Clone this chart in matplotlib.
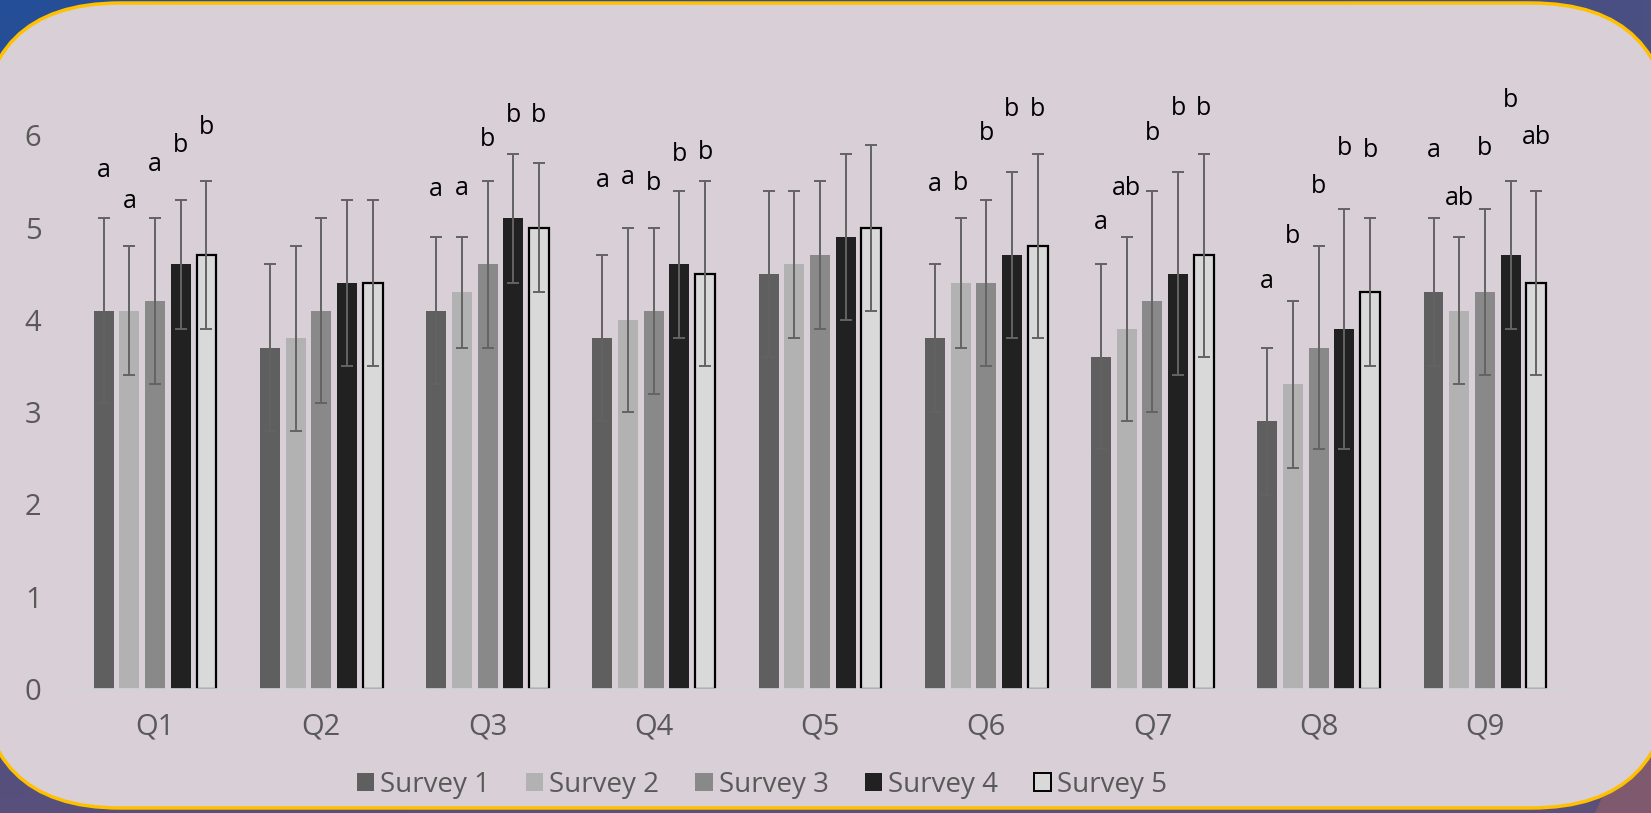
import numpy as np
import matplotlib.pyplot as plt
from matplotlib.patches import FancyBboxPatch, Polygon, Patch

plt.rcParams['font.family'] = ['Open Sans', 'DejaVu Sans']

questions = ['Q1', 'Q2', 'Q3', 'Q4', 'Q5', 'Q6', 'Q7', 'Q8', 'Q9']
surveys = ['Survey 1', 'Survey 2', 'Survey 3', 'Survey 4', 'Survey 5']

# mean scores per survey
survey1 = [4.1, 3.7, 4.1, 3.8, 4.5, 3.8, 3.6, 2.9, 4.3]
survey2 = [4.1, 3.8, 4.3, 4.0, 4.6, 4.4, 3.9, 3.3, 4.1]
survey3 = [4.2, 4.1, 4.6, 4.1, 4.7, 4.4, 4.2, 3.7, 4.3]
survey4 = [4.6, 4.4, 5.1, 4.6, 4.9, 4.7, 4.5, 3.9, 4.7]
survey5 = [4.7, 4.4, 5.0, 4.5, 5.0, 4.8, 4.7, 4.3, 4.4]

# standard deviations (error bars)
sd1 = [1.0, 0.9, 0.8, 0.9, 0.9, 0.8, 1.0, 0.8, 0.8]
sd2 = [0.7, 1.0, 0.6, 1.0, 0.8, 0.7, 1.0, 0.9, 0.8]
sd3 = [0.9, 1.0, 0.9, 0.9, 0.8, 0.9, 1.2, 1.1, 0.9]
sd4 = [0.7, 0.9, 0.7, 0.8, 0.9, 0.9, 1.1, 1.3, 0.8]
sd5 = [0.8, 0.9, 0.7, 1.0, 0.9, 1.0, 1.1, 0.8, 1.0]

# significance letters ('' = none)
letters1 = ['a', '', 'a', 'a', '', 'a', 'a', 'a', 'a']
letters2 = ['a', '', 'a', 'a', '', 'b', 'ab', 'b', 'ab']
letters3 = ['a', '', 'b', 'b', '', 'b', 'b', 'b', 'b']
letters4 = ['b', '', 'b', 'b', '', 'b', 'b', 'b', 'b']
letters5 = ['b', '', 'b', 'b', '', 'b', 'b', 'b', 'ab']

# height of the letters on the value scale
letter_h1 = [5.62, None, 5.41, 5.51, None, 5.47, 5.05, 4.42, 5.84]
letter_h2 = [5.28, None, 5.42, 5.54, None, 5.48, 5.42, 4.90, 5.31]
letter_h3 = [5.68, None, 5.95, 5.48, None, 6.02, 6.02, 5.45, 5.86]
letter_h4 = [5.89, None, 6.21, 5.79, None, 6.28, 6.29, 5.86, 6.38]
letter_h5 = [6.08, None, 6.21, 5.81, None, 6.28, 6.29, 5.84, 5.98]

means = [survey1, survey2, survey3, survey4, survey5]
sds = [sd1, sd2, sd3, sd4, sd5]
letters = [letters1, letters2, letters3, letters4, letters5]
letter_h = [letter_h1, letter_h2, letter_h3, letter_h4, letter_h5]

colors = ['#5f5f5f', '#b2b2b2', '#898989', '#212121', '#d9d9d9']
edges = ['none', 'none', 'none', 'none', 'black']
text_grey = '#595959'

W, H = 1651, 813
fig = plt.figure(figsize=(W / 100, H / 100), dpi=100)

# slide background
bg = fig.add_axes([0, 0, 1, 1], zorder=-10)
bg.set_xlim(0, W)
bg.set_ylim(H, 0)
bg.axis('off')
tl = np.array([36, 78, 152]) / 255
tr = np.array([74, 80, 130]) / 255
bl = np.array([88, 80, 124]) / 255
br = np.array([92, 80, 122]) / 255
u = np.linspace(0, 1, 200)[None, :, None]
v = np.linspace(0, 1, 100)[:, None, None]
grad = (1 - v) * ((1 - u) * tl + u * tr) + v * ((1 - u) * bl + u * br)
bg.imshow(grad, extent=(0, W, H, 0), aspect='auto')
bg.add_patch(Polygon([(1595, H), (1651, 690), (1651, H)], closed=True,
                     fc='#7f5a6e', ec='none'))
bg.add_patch(FancyBboxPatch((-20, 3), W + 40, 805,
                            boxstyle='round,pad=0,rounding_size=140',
                            fc='#d9cfd6', ec='#ffc000', lw=2.5))

ax = fig.add_axes([72 / W, 124 / H, 1496 / W, 646 / H])
ax.set_facecolor('none')

x = np.arange(len(questions))
slot = 0.1545
width = 0.12
for i in range(len(surveys)):
    pos = x + (i - 2) * slot
    ax.bar(pos, means[i], width, color=colors[i], edgecolor=edges[i],
           linewidth=1.6 if edges[i] != 'none' else 0, label=surveys[i], zorder=2)
    ax.errorbar(pos, means[i], yerr=sds[i], fmt='none', ecolor='#636363',
                elinewidth=1.4, capsize=4.3, capthick=1.4, zorder=3)
    for j in range(len(questions)):
        if letters[i][j]:
            ax.text(pos[j], letter_h[i][j], letters[i][j], ha='center', va='center',
                    fontsize=18, color='black')

ax.set_xlim(-0.5, len(questions) - 0.5)
ax.set_ylim(0, 7)
ax.set_yticks(range(0, 7))
ax.set_xticks(x)
ax.set_xticklabels(questions)
ax.tick_params(length=0, labelsize=21, labelcolor=text_grey)
ax.tick_params(axis='y', pad=22)
ax.tick_params(axis='x', pad=17)
for s in ['top', 'right', 'left']:
    ax.spines[s].set_visible(False)
ax.spines['bottom'].set_color('#d4d4d4')
ax.spines['bottom'].set_linewidth(1.2)

handles = [Patch(facecolor=colors[i], edgecolor='black' if edges[i] != 'none' else colors[i],
                 linewidth=1.4 if edges[i] != 'none' else 0) for i in range(len(surveys))]
fig.legend(handles, surveys, ncol=5, loc='center', bbox_to_anchor=(762 / W, 1 - 785 / H),
           frameon=False, fontsize=20, labelcolor=text_grey, handlelength=0.62,
           handleheight=0.62, handletextpad=0.22, columnspacing=1.3)

fig.savefig('out.png', dpi=100)
